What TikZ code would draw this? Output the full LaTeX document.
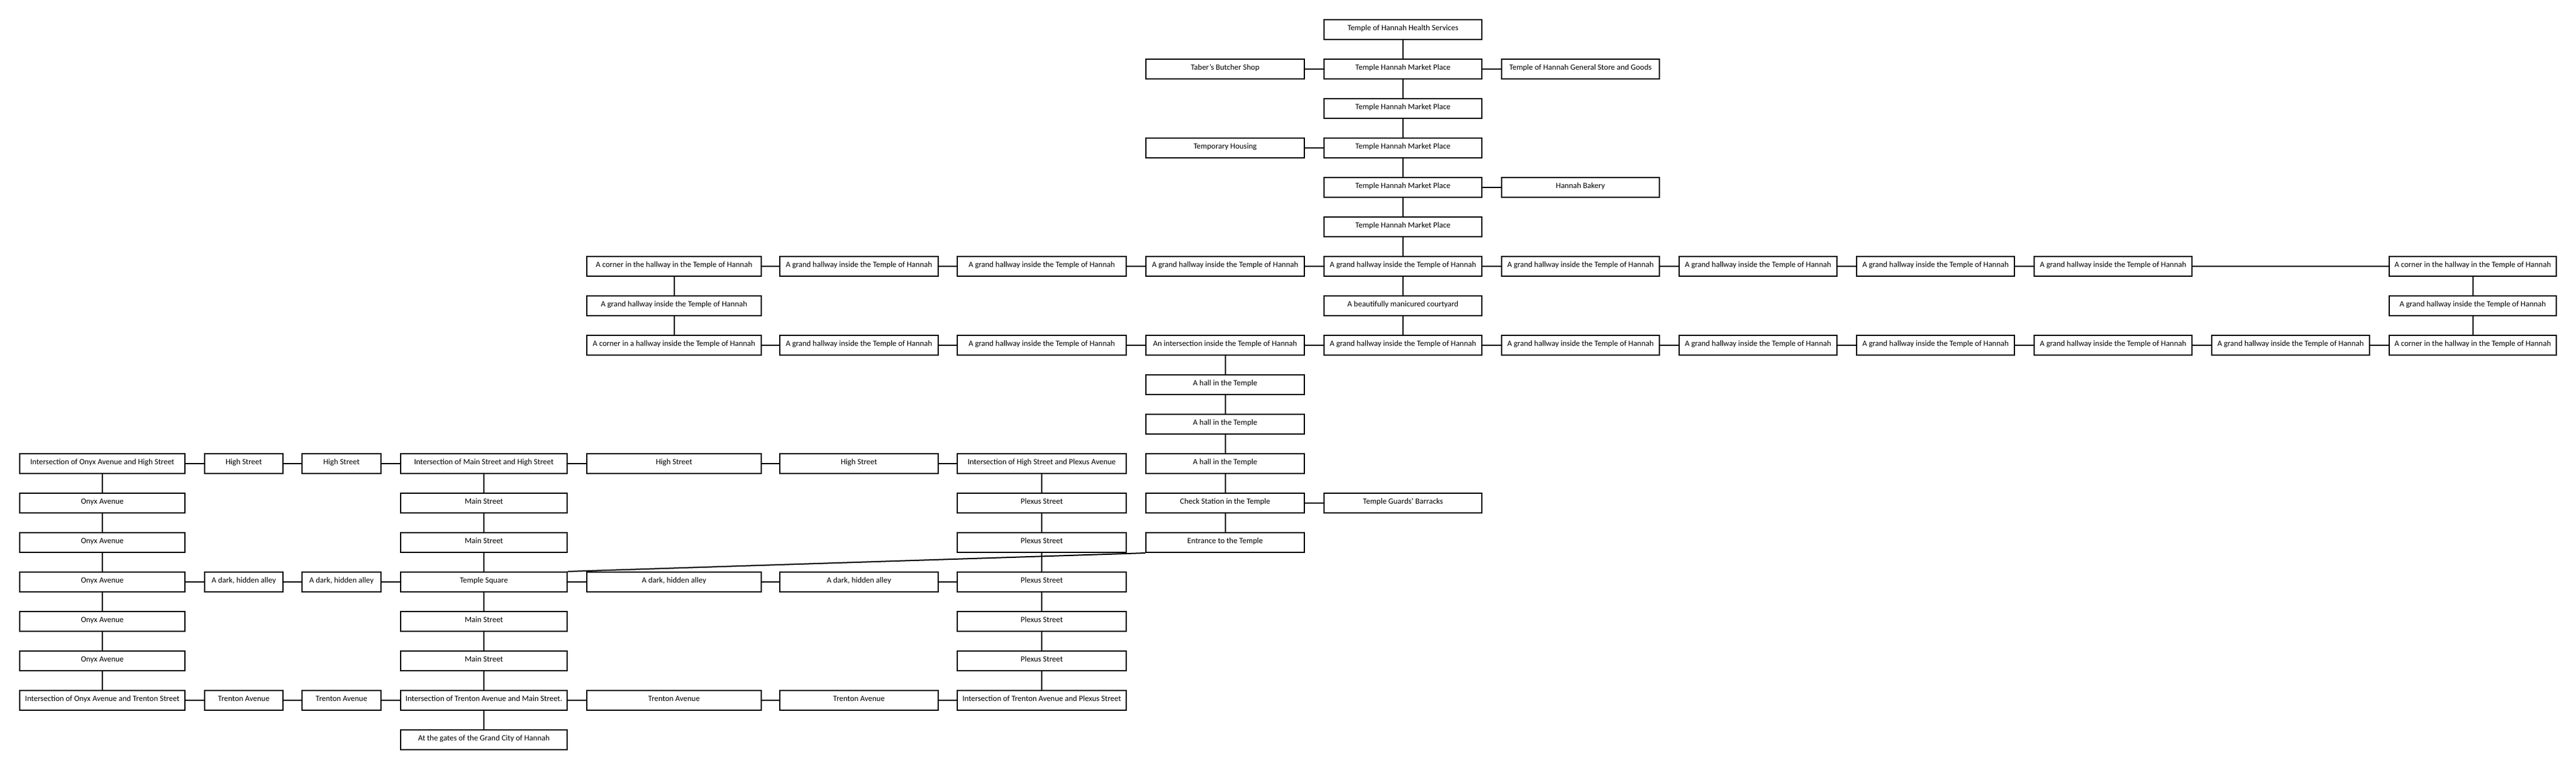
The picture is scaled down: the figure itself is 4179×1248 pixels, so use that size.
\documentclass[tikz,border=0pt]{standalone}
\usepackage{fontspec}
\setmainfont{Carlito}
\begin{document}
\begin{tikzpicture}[x=1pt,y=-1pt,
  box/.style={draw, line width=2pt, minimum height=32pt, inner sep=0pt,
    font=\fontsize{13}{15}\selectfont, text height=8pt, text depth=4.6pt},
  cA/.style={box, minimum width=268pt},
  cB/.style={box, minimum width=127pt},
  cC/.style={box, minimum width=128pt},
  cD/.style={box, minimum width=270pt},
  cE/.style={box, minimum width=283pt},
  cF/.style={box, minimum width=257pt},
  cG/.style={box, minimum width=274pt},
  cH/.style={box, minimum width=257pt},
  cN/.style={box, minimum width=256pt},
  cO/.style={box, minimum width=271pt},
  link/.style={draw, line width=2pt}]
\useasboundingbox (0,0) rectangle (4179,1248);
% column I top
\node[cN] (i0) at (2276,48) {Temple of Hannah Health Services};
\node[cH] (h1) at (1987.5,112) {Taber's Butcher Shop};
\node[cN] (i1) at (2276,112) {Temple Hannah Market Place};
\node[cN] (j1) at (2564,112) {Temple of Hannah General Store and Goods};
\node[cN] (i2) at (2276,176) {Temple Hannah Market Place};
\node[cH] (h3) at (1987.5,240) {Temporary Housing};
\node[cN] (i3) at (2276,240) {Temple Hannah Market Place};
\node[cN] (i4) at (2276,304) {Temple Hannah Market Place};
\node[cN] (j4) at (2564,304) {Hannah Bakery};
\node[cN] (i5) at (2276,368) {Temple Hannah Market Place};
% row 6
\node[cE] (e6) at (1093.5,432) {A corner in the hallway in the Temple of Hannah};
\node[cF] (f6) at (1393.5,432) {A grand hallway inside the Temple of Hannah};
\node[cG] (g6) at (1690,432) {A grand hallway inside the Temple of Hannah};
\node[cH] (h6) at (1987.5,432) {A grand hallway inside the Temple of Hannah};
\node[cN] (i6) at (2276,432) {A grand hallway inside the Temple of Hannah};
\node[cN] (j6) at (2564,432) {A grand hallway inside the Temple of Hannah};
\node[cN] (k6) at (2852,432) {A grand hallway inside the Temple of Hannah};
\node[cN] (l6) at (3140,432) {A grand hallway inside the Temple of Hannah};
\node[cN] (m6) at (3428,432) {A grand hallway inside the Temple of Hannah};
\node[cO] (o6) at (4011.5,432) {A corner in the hallway in the Temple of Hannah};
% row 7
\node[cE] (e7) at (1093.5,496) {A grand hallway inside the Temple of Hannah};
\node[cN] (i7) at (2276,496) {A beautifully manicured courtyard};
\node[cO] (o7) at (4011.5,496) {A grand hallway inside the Temple of Hannah};
% row 8
\node[cE] (e8) at (1093.5,560) {A corner in a hallway inside the Temple of Hannah};
\node[cF] (f8) at (1393.5,560) {A grand hallway inside the Temple of Hannah};
\node[cG] (g8) at (1690,560) {A grand hallway inside the Temple of Hannah};
\node[cH] (h8) at (1987.5,560) {An intersection inside the Temple of Hannah};
\node[cN] (i8) at (2276,560) {A grand hallway inside the Temple of Hannah};
\node[cN] (j8) at (2564,560) {A grand hallway inside the Temple of Hannah};
\node[cN] (k8) at (2852,560) {A grand hallway inside the Temple of Hannah};
\node[cN] (l8) at (3140,560) {A grand hallway inside the Temple of Hannah};
\node[cN] (m8) at (3428,560) {A grand hallway inside the Temple of Hannah};
\node[cN] (n8) at (3716,560) {A grand hallway inside the Temple of Hannah};
\node[cO] (o8) at (4011.5,560) {A corner in the hallway in the Temple of Hannah};
% column H
\node[cH] (h9) at (1987.5,624) {A hall in the Temple};
\node[cH] (h10) at (1987.5,688) {A hall in the Temple};
\node[cH] (h11) at (1987.5,752) {A hall in the Temple};
\node[cH] (h12) at (1987.5,816) {Check Station in the Temple};
\node[cN] (i12) at (2276,816) {Temple Guards' Barracks};
\node[cH] (h13) at (1987.5,880) {Entrance to the Temple};
% row 11
\node[cA] (a11) at (166,752) {Intersection of Onyx Avenue and High Street};
\node[cB] (b11) at (395.5,752) {High Street};
\node[cC] (c11) at (554,752) {High Street};
\node[cD] (d11) at (785,752) {Intersection of Main Street and High Street};
\node[cE] (e11) at (1093.5,752) {High Street};
\node[cF] (f11) at (1393.5,752) {High Street};
\node[cG] (g11) at (1690,752) {Intersection of High Street and Plexus Avenue};
% rows 12-16
\node[cA] (a12) at (166,816) {Onyx Avenue};
\node[cD] (d12) at (785,816) {Main Street};
\node[cG] (g12) at (1690,816) {Plexus Street};
\node[cA] (a13) at (166,880) {Onyx Avenue};
\node[cD] (d13) at (785,880) {Main Street};
\node[cG] (g13) at (1690,880) {Plexus Street};
\node[cA] (a14) at (166,944) {Onyx Avenue};
\node[cB] (b14) at (395.5,944) {A dark, hidden alley};
\node[cC] (c14) at (554,944) {A dark, hidden alley};
\node[cD] (d14) at (785,944) {Temple Square};
\node[cE] (e14) at (1093.5,944) {A dark, hidden alley};
\node[cF] (f14) at (1393.5,944) {A dark, hidden alley};
\node[cG] (g14) at (1690,944) {Plexus Street};
\node[cA] (a15) at (166,1008) {Onyx Avenue};
\node[cD] (d15) at (785,1008) {Main Street};
\node[cG] (g15) at (1690,1008) {Plexus Street};
\node[cA] (a16) at (166,1072) {Onyx Avenue};
\node[cD] (d16) at (785,1072) {Main Street};
\node[cG] (g16) at (1690,1072) {Plexus Street};
% row 17-18
\node[cA] (a17) at (166,1136) {Intersection of Onyx Avenue and Trenton Street};
\node[cB] (b17) at (395.5,1136) {Trenton Avenue};
\node[cC] (c17) at (554,1136) {Trenton Avenue};
\node[cD] (d17) at (785,1136) {Intersection of Trenton Avenue and Main Street.};
\node[cE] (e17) at (1093.5,1136) {Trenton Avenue};
\node[cF] (f17) at (1393.5,1136) {Trenton Avenue};
\node[cG] (g17) at (1690,1136) {Intersection of Trenton Avenue and Plexus Street};
\node[cD] (d18) at (785,1200) {At the gates of the Grand City of Hannah};
% connectors
\path[link] (i0)--(i1) (i1)--(i2) (i2)--(i3) (i3)--(i4) (i4)--(i5) (i5)--(i6)
  (h1)--(i1) (i1)--(j1) (h3)--(i3) (i4)--(j4);
\path[link] (e6)--(f6) (f6)--(g6) (g6)--(h6) (h6)--(i6) (i6)--(j6) (j6)--(k6)
  (k6)--(l6) (l6)--(m6) (m6)--(o6);
\path[link] (e6)--(e7) (e7)--(e8) (i6)--(i7) (i7)--(i8) (o6)--(o7) (o7)--(o8);
\path[link] (e8)--(f8) (f8)--(g8) (g8)--(h8) (h8)--(i8) (i8)--(j8) (j8)--(k8)
  (k8)--(l8) (l8)--(m8) (m8)--(n8) (n8)--(o8);
\path[link] (h8)--(h9) (h9)--(h10) (h10)--(h11) (h11)--(h12) (h12)--(h13) (h12)--(i12);
\path[link] (h13.south west)--(d14.north east);
\path[link] (a11)--(b11) (b11)--(c11) (c11)--(d11) (d11)--(e11) (e11)--(f11) (f11)--(g11);
\path[link] (a14)--(b14) (b14)--(c14) (c14)--(d14) (d14)--(e14) (e14)--(f14) (f14)--(g14);
\path[link] (a17)--(b17) (b17)--(c17) (c17)--(d17) (d17)--(e17) (e17)--(f17) (f17)--(g17);
\path[link] (a11)--(a12) (a12)--(a13) (a13)--(a14) (a14)--(a15) (a15)--(a16) (a16)--(a17);
\path[link] (d11)--(d12) (d12)--(d13) (d13)--(d14) (d14)--(d15) (d15)--(d16) (d16)--(d17) (d17)--(d18);
\path[link] (g11)--(g12) (g12)--(g13) (g13)--(g14) (g14)--(g15) (g15)--(g16) (g16)--(g17);
\end{tikzpicture}
\end{document}
